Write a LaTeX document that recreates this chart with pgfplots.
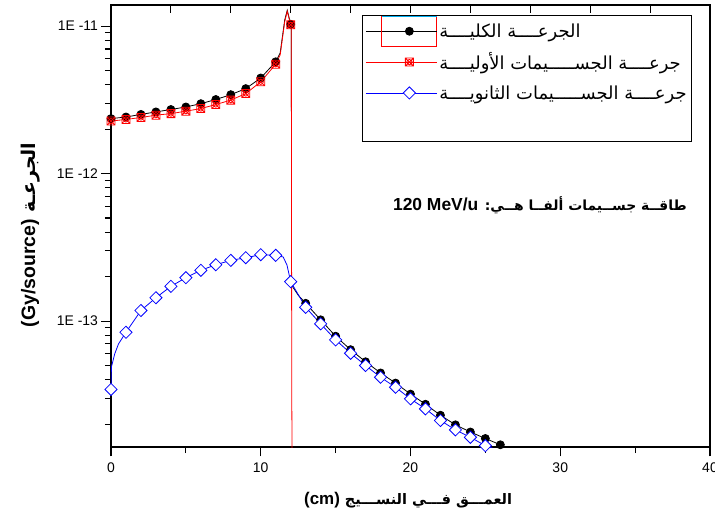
\documentclass[border=0pt]{standalone}
\usepackage{fontspec}
\setmainfont{Liberation Sans}
\newfontfamily\latinfont{Liberation Sans}
\newfontfamily\arabicfont[Script=Arabic]{DejaVu Sans}
\usepackage{pgfplots}
\usepackage{pgfplotstable}
\pgfplotsset{compat=1.18}
\usetikzlibrary{plotmarks}
\TeXXeTstate=1

\pgfdeclareplotmark{boxstar}{%
  \pgfpathrectangle{\pgfqpoint{-\pgfplotmarksize}{-\pgfplotmarksize}}{\pgfqpoint{2\pgfplotmarksize}{2\pgfplotmarksize}}%
  \pgfpathcircle{\pgfpointorigin}{0.65\pgfplotmarksize}%
  \pgfpathmoveto{\pgfqpoint{-\pgfplotmarksize}{-\pgfplotmarksize}}\pgfpathlineto{\pgfqpoint{\pgfplotmarksize}{\pgfplotmarksize}}%
  \pgfpathmoveto{\pgfqpoint{-\pgfplotmarksize}{\pgfplotmarksize}}\pgfpathlineto{\pgfqpoint{\pgfplotmarksize}{-\pgfplotmarksize}}%
  \pgfusepathqstroke
}

\pgfplotsset{
  totalleg/.style={legend image code/.code={
    \path (-16bp,0bp) -- (0bp,0bp);
    \draw[red, line width=0.8pt, overlay] (0bp,-15bp) rectangle (55bp,15bp);
    \draw[cyan, line width=1pt, overlay] (0bp,15bp) -- (55bp,15bp);
    \draw[black, line width=0.8pt] (0bp,0bp) -- (55bp,0bp);
    \draw[##1, mark indices={1}] plot coordinates {(27.5bp,0bp)};
  }},
  lineleg/.style={legend image code/.code={
    \path (-16bp,0bp) -- (0bp,0bp);
    \draw[##1, mark=none] (0bp,0bp) -- (55bp,0bp);
    \draw[##1, mark indices={1}] plot coordinates {(27.5bp,0bp)};
  }},
}

\pgfplotstableread{
x y
0 2.36e-12
1 2.42e-12
2 2.52e-12
3 2.62e-12
4 2.72e-12
5 2.83e-12
6 2.98e-12
7 3.18e-12
8 3.43e-12
9 3.77e-12
10 4.45e-12
11 5.73e-12
11.3 6.6e-12
11.6 1.1e-11
11.77 1.28e-11
12 1.03e-11
12.04 1.0e-11
12.06 1.75e-13
12.5 1.5e-13
13 1.32e-13
14 1.02e-13
15 7.9e-14
16 6.4e-14
17 5.3e-14
18 4.45e-14
19 3.8e-14
20 3.2e-14
21 2.73e-14
22 2.3e-14
23 1.98e-14
24 1.77e-14
25 1.6e-14
26 1.45e-14
}\total

\pgfplotstableread{
x y
0 2.27e-12
1 2.33e-12
2 2.40e-12
3 2.49e-12
4 2.55e-12
5 2.65e-12
6 2.76e-12
7 2.94e-12
8 3.15e-12
9 3.49e-12
10 4.19e-12
11 5.52e-12
11.3 6.4e-12
11.6 1.07e-11
11.77 1.26e-11
12 1.02e-11
12.04 9.8e-12
12.07 3.3e-14
12.15 1e-15
}\primary

\pgfplotstableread{
x y
0 3.44e-14
0.03 4.9e-14
0.25 6.0e-14
0.5 7.0e-14
1 8.4e-14
2 1.18e-13
3 1.44e-13
4 1.72e-13
5 1.97e-13
6 2.21e-13
7 2.41e-13
8 2.58e-13
9 2.69e-13
10 2.82e-13
11 2.79e-13
11.5 2.72e-13
11.75 2.4e-13
12 1.85e-13
13 1.24e-13
14 9.58e-14
15 7.46e-14
16 6.05e-14
17 5.00e-14
18 4.16e-14
19 3.56e-14
20 2.97e-14
21 2.54e-14
22 2.12e-14
23 1.83e-14
24 1.63e-14
25 1.43e-14
26 1.32e-14
}\secondary

\begin{document}
\begin{tikzpicture}
\useasboundingbox (-111bp,-72bp) rectangle (604bp,447bp);
\begin{axis}[
  at={(0,0)}, anchor=south west,
  scale only axis, width=599bp, height=442bp,
  xmin=0, xmax=40,
  ymode=log, ymin=1.4e-14, ymax=1.39e-11,
  xtick={0,10,20,30,40},
  minor xtick={5,15,25,35},
  ytick={1e-13,1e-12,1e-11},
  yticklabels={1E\ -13,1E\ -12,1E\ -11},
  minor ytick={2e-14,3e-14,4e-14,5e-14,6e-14,7e-14,8e-14,9e-14,2e-13,3e-13,4e-13,5e-13,6e-13,7e-13,8e-13,9e-13,2e-12,3e-12,4e-12,5e-12,6e-12,7e-12,8e-12,9e-12},
  xtick pos=bottom, ytick pos=left,
  tick align=outside,
  major tick length=9.5bp, minor tick length=6bp,
  axis line style={line width=1.1pt},
  every tick/.style={black, line width=1.1pt},
  ticklabel style={font=\fontsize{14}{16}\selectfont},
  xticklabel style={yshift=-3bp},
  /pgf/number format/assume math mode=true,
  xlabel={\arabicfont\bfseries\fontsize{14.5}{17}\selectfont\beginR العمـــق فـــي النســـيج \beginL{\latinfont\bfseries\fontsize{17}{19}\selectfont (cm)}\endL\endR},
  ylabel={\arabicfont\bfseries\fontsize{19}{21}\selectfont\beginR الجرعـة \beginL{\latinfont\bfseries\fontsize{19.5}{21}\selectfont (Gy/source)}\endL\endR},
  xlabel style={at={(axis description cs:0.496,-0.12)}, anchor=center},
  ylabel style={at={(axis description cs:-0.135,0.48)}, anchor=center},
  legend style={at={(axis description cs:0.419,0.977)}, anchor=north west,
    draw=black, line width=1pt, fill=white,
    font=\arabicfont\fontsize{18}{21}\selectfont,
    inner xsep=3bp, inner ysep=6bp, row sep=10bp},
  legend cell align=left,
]
\addplot[black, line width=0.8pt, mark=*, mark size=4bp, mark options={solid, fill=black},
  mark indices={1,2,3,4,5,6,7,8,9,10,11,12,16,20,21,22,23,24,25,26,27,28,29,30,31,32,33},
  totalleg] table {\total};
\addlegendentry{\beginR الجرعــــة الكليــــة\endR}

\addplot[red, line width=0.8pt, mark=boxstar, mark size=4bp, mark options={solid},
  mark indices={1,2,3,4,5,6,7,8,9,10,11,12,16},
  lineleg] table {\primary};
\addlegendentry{\beginR جرعــــة الجســـــيمات الأوليــــة\endR}

\addplot[blue, line width=0.8pt, mark=square*, mark size=4.3bp, mark options={solid, rotate=45, fill=white, draw=blue},
  mark indices={1,5,6,7,8,9,10,11,12,13,14,15,18,19,20,21,22,23,24,25,26,27,28,29,30,31,32},
  lineleg] table {\secondary};
\addlegendentry{\beginR جرعــــة الجســـــيمات الثانويــــة\endR}

\addlegendimage{empty legend}
\addlegendentry{\rule{0pt}{18bp}}

\node[font=\arabicfont\bfseries\fontsize{14}{16}\selectfont] at (axis description cs:0.716,0.548)
  {\beginR طاقــة جســيمات ألفــا هــي: \beginL{\latinfont\bfseries\fontsize{17.5}{19}\selectfont 120 MeV/u}\endL\endR};
\end{axis}

\begin{axis}[
  at={(0,0)}, anchor=south west,
  scale only axis, width=599bp, height=442bp,
  xmin=0, xmax=40, ymin=0, ymax=1,
  xtick={4,8,12,16,20,24,28,32,36},
  xticklabels={},
  ytick=\empty,
  minor ytick={0.1,0.2,0.3,0.4,0.5,0.6,0.7,0.8,0.9},
  xtick pos=top, ytick pos=right,
  tick align=inside,
  major tick length=8bp, minor tick length=4bp,
  axis line style={draw=none},
  every tick/.style={black, line width=1.1pt},
]
\end{axis}
\end{tikzpicture}
\end{document}
